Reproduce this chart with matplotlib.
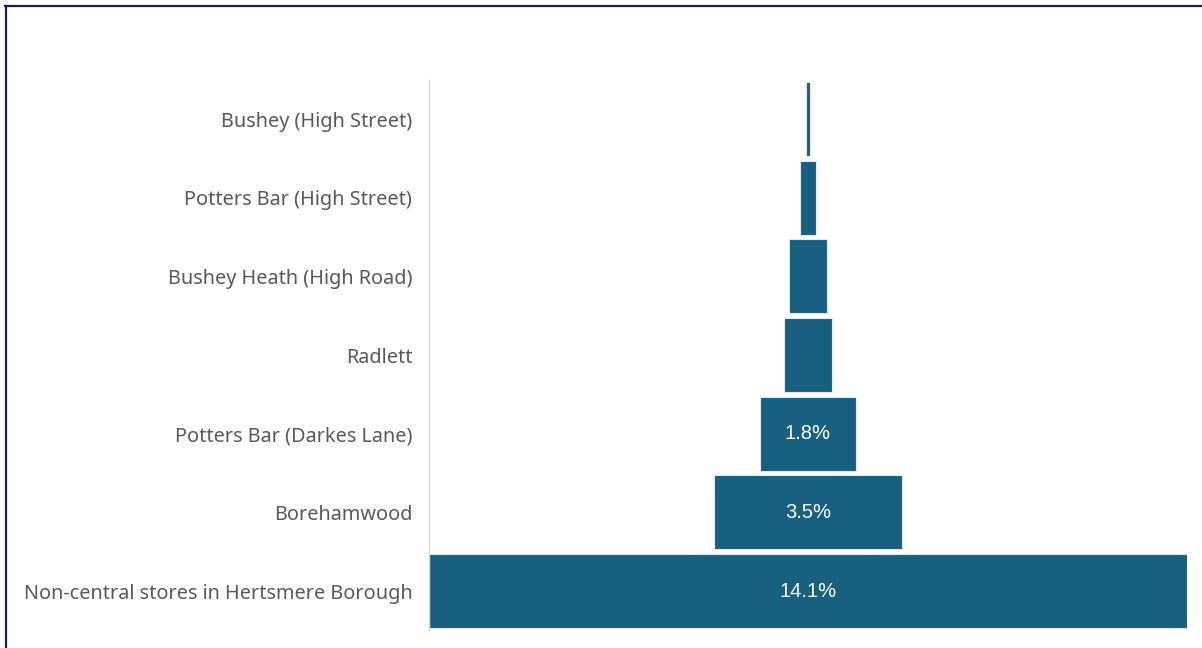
import numpy as np
import matplotlib
matplotlib.use("Agg")
import matplotlib.pyplot as plt
from matplotlib.lines import Line2D

# share of stores by location, top of funnel first
locations = ["Bushey (High Street)", "Potters Bar (High Street)",
             "Bushey Heath (High Road)", "Radlett", "Potters Bar (Darkes Lane)",
             "Borehamwood", "Non-central stores in Hertsmere Borough"]
share = [0.07, 0.29, 0.69, 0.88, 1.8, 3.5, 14.1]
shown = [False, False, False, False, True, True, True]

bar_col = "#17607f"
txt_col = "#595959"

fig = plt.figure(figsize=(12.02, 6.48), dpi=100)
ax = fig.add_axes([0.3569, 0.027, 0.6306, 0.850])

y = np.arange(len(locations))
vals = np.array(share)
ax.barh(y, vals, left=-vals / 2, height=0.94, color=bar_col,
        edgecolor="#dfe8ee", linewidth=0.8)

for yi, v, s in zip(y, vals, shown):
    if s:
        ax.text(0, yi, f"{v:.1f}%", ha="center", va="center", color="white",
                fontsize=14.5, family="Liberation Sans")

ax.set_xlim(-7.05, 7.05)
ax.set_ylim(len(locations) - 0.5, -0.5)
ax.set_yticks(y)
ax.set_yticklabels(locations, fontsize=14.3, color=txt_col, family="Noto Sans")
ax.tick_params(axis="y", length=0, pad=12)
ax.set_xticks([])
for sp in ["top", "right", "bottom"]:
    ax.spines[sp].set_visible(False)
ax.spines["left"].set_color("#d9d9d9")
ax.spines["left"].set_linewidth(1.0)

# frame lines along the top and left edges
fig.add_artist(Line2D([0.004, 1.0], [0.9900, 0.9900], transform=fig.transFigure,
                      color="#1f1d4d", linewidth=1.6))
fig.add_artist(Line2D([0.0050, 0.0050], [0.0, 0.9900], transform=fig.transFigure,
                      color="#1f1d4d", linewidth=1.6))

fig.savefig("out.png", dpi=100)
